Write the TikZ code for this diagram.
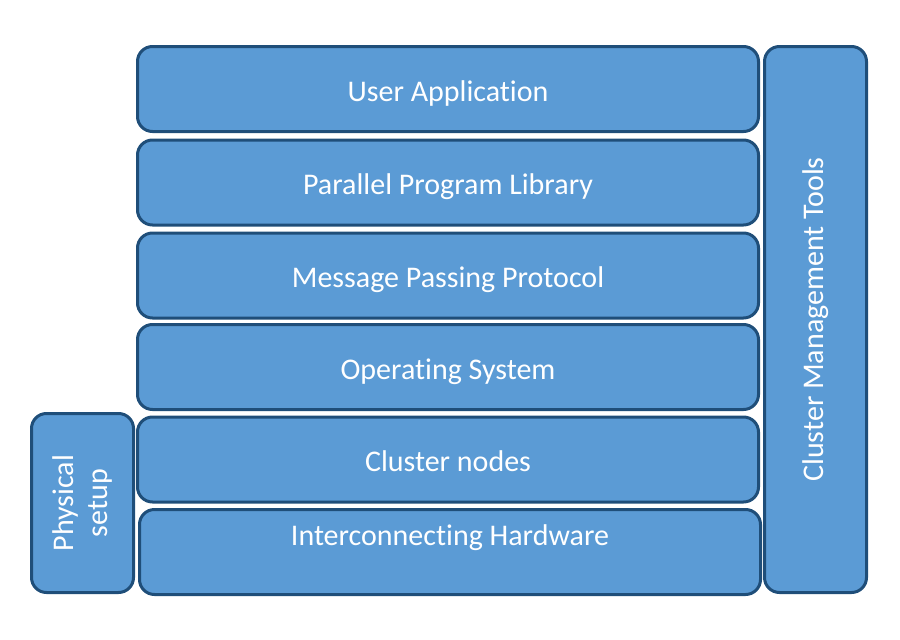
\documentclass[tikz,border=0pt]{standalone}
\usepackage{fontspec}
\setmainfont{Carlito}[Ligatures = NoCommon]
\usetikzlibrary{positioning}

\definecolor{layerfill}{HTML}{5B9BD5}
\definecolor{layerline}{HTML}{1F4E79}

\tikzset{
	block/.style = {draw = layerline, fill = layerfill, line width = 3pt, rounded corners = 15pt,
		minimum width = 621pt, minimum height = 85pt, inner sep = 0pt, text = white, font = \fontsize{30}{34}\selectfont},
	layer/.style = {block, text height = 26pt, text depth = 2pt},
	side/.style = {block, minimum height = 102pt, align = center, rotate = 90},
	caption/.style = {text = white, font = \fontsize{30}{34}\selectfont},
}

\begin{document}
\begin{tikzpicture}[x = 1pt, y = -1pt]
			\useasboundingbox (0,0) rectangle (900,640);
			\def\cx{448};
			
			\begin{scope}
				\node (app) [layer] at (\cx, 89) {User Application};
				\node (lib) [layer] at (\cx, 182.5) {Parallel Program Library};
				\node (mpp) [layer] at (\cx, 275.5) {Message Passing Protocol};
				\node (os) [layer] at (\cx, 367) {Operating System};
				\node (nodes) [layer] at (\cx, 459.5) {Cluster nodes};
				\node (hw) [layer] at (\cx+2, 552) {};
				\node (hwtext) [caption] at ([yshift = 14pt]hw.center) {Interconnecting Hardware};
			\end{scope}
			
			\begin{scope}
				\node (phys) [side, minimum width = 179pt] at (82.5, 503) {Physical\\setup};
				\node (tools) [side, minimum width = 546pt] at (815.5, 319.5) {Cluster Management Tools};
			\end{scope}
			
		\end{tikzpicture}
\end{document}
